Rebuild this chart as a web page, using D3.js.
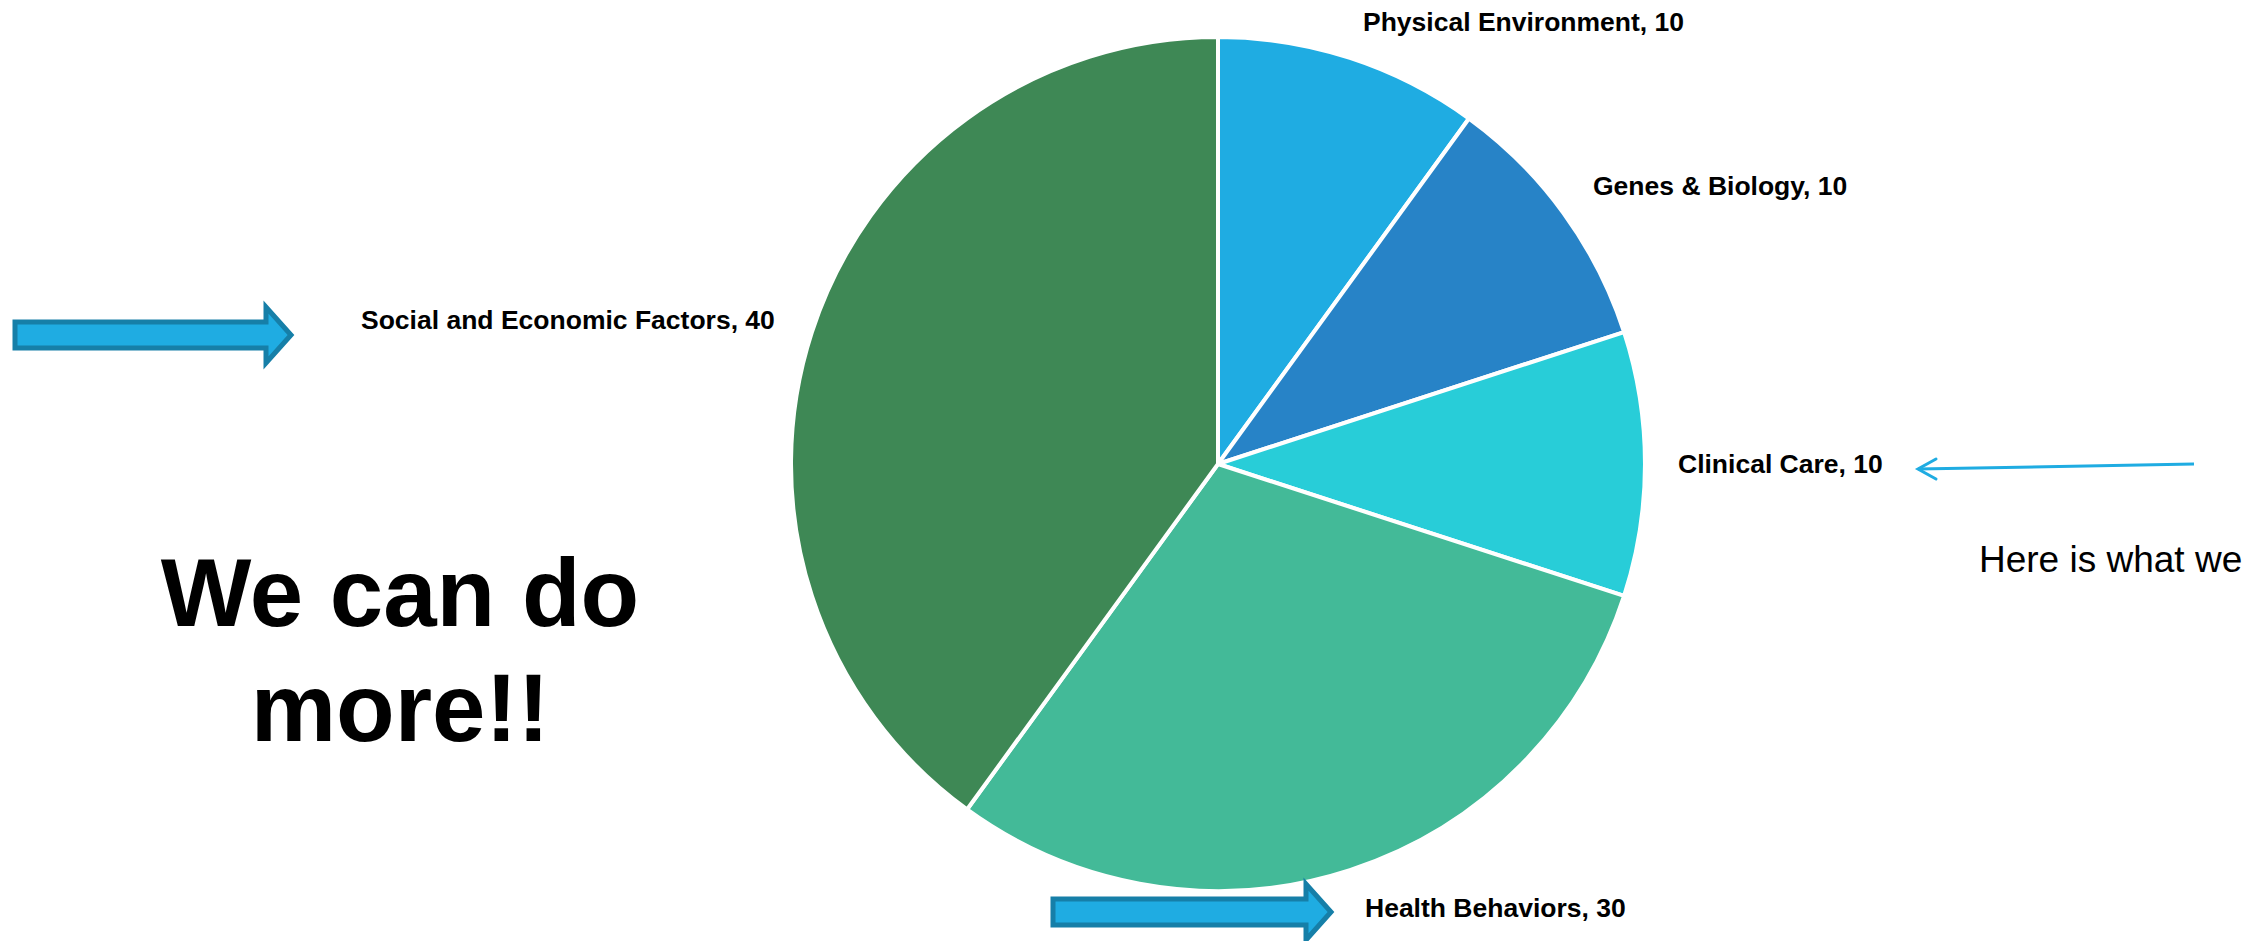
<!DOCTYPE html>
<html>
<head>
<meta charset="utf-8">
<script src="https://cdn.jsdelivr.net/npm/d3@7/dist/d3.min.js"></script>
<style>
  html, body { margin: 0; padding: 0; background: #fff; }
  svg { display: block; font-family: "Liberation Sans", Arial, sans-serif; }
</style>
</head>
<body>
<div id="chart"></div>
<script>
// data
var categories = ["Physical Environment", "Genes & Biology", "Clinical Care", "Health Behaviors", "Social and Economic Factors"];
var values = [10, 10, 10, 30, 40];
var colors = ["#1FACE2", "#2783C7", "#28CDD8", "#43BA98", "#3E8855"];

var width = 2261, height = 941;
var cx = 1218, cy = 464, radius = 427;

// where each label sits (left x, baseline y)
var labelPos = {
  "Physical Environment": [1363, 31],
  "Genes & Biology": [1593, 195],
  "Clinical Care": [1678, 473],
  "Health Behaviors": [1365, 917],
  "Social and Economic Factors": [361, 329]
};

var svg = d3.select("#chart").append("svg")
    .attr("width", width)
    .attr("height", height);

var pie = d3.pie().sort(null).value(function(d) { return d.value; });
var arc = d3.arc().innerRadius(0).outerRadius(radius);

var data = categories.map(function(c, i) { return {name: c, value: values[i], color: colors[i]}; });

var g = svg.append("g")
    .attr("transform", "translate(" + cx + "," + cy + ")");

g.selectAll("path")
    .data(pie(data))
    .enter().append("path")
    .attr("d", arc)
    .attr("fill", function(d) { return d.data.color; })
    .attr("stroke", "#fff")
    .attr("stroke-width", 4)
    .attr("stroke-linejoin", "round");

svg.append("g").selectAll("text")
    .data(data)
    .enter().append("text")
    .attr("x", function(d) { return labelPos[d.name][0]; })
    .attr("y", function(d) { return labelPos[d.name][1]; })
    .attr("font-size", 26.5)
    .attr("font-weight", "bold")
    .attr("fill", "#000")
    .text(function(d) { return d.name + ", " + d.value; });

// block arrows
function blockArrow(x0, x1, yc, shaftH, headH, tip) {
  var s = shaftH / 2, h = headH / 2;
  return "M" + x0 + "," + (yc - s) +
    "L" + x1 + "," + (yc - s) +
    "L" + x1 + "," + (yc - h) +
    "L" + tip + "," + yc +
    "L" + x1 + "," + (yc + h) +
    "L" + x1 + "," + (yc + s) +
    "L" + x0 + "," + (yc + s) + "Z";
}

svg.append("path")
    .attr("d", blockArrow(15, 266, 335, 26, 56, 291))
    .attr("fill", "#1FACE2")
    .attr("stroke", "#167FA8")
    .attr("stroke-width", 5);

svg.append("path")
    .attr("d", blockArrow(1053, 1306, 912, 26, 56, 1331))
    .attr("fill", "#1FACE2")
    .attr("stroke", "#167FA8")
    .attr("stroke-width", 5);

// thin arrow to clinical care
svg.append("line")
    .attr("x1", 2194).attr("y1", 464)
    .attr("x2", 1918).attr("y2", 469)
    .attr("stroke", "#1FACE2")
    .attr("stroke-width", 3);
svg.append("path")
    .attr("d", "M1936,459L1918,469L1936,479")
    .attr("fill", "none")
    .attr("stroke", "#1FACE2")
    .attr("stroke-width", 3)
    .attr("stroke-linecap", "round");

svg.append("text")
    .attr("x", 1979)
    .attr("y", 572)
    .attr("font-size", 37)
    .attr("fill", "#000")
    .text("Here is what we");

var big = svg.append("text")
    .attr("text-anchor", "middle")
    .attr("font-size", 96)
    .attr("font-weight", "bold")
    .attr("fill", "#000");
big.append("tspan").attr("x", 400).attr("y", 626).text("We can do");
big.append("tspan").attr("x", 400).attr("y", 741).text("more!!");
</script>
</body>
</html>
